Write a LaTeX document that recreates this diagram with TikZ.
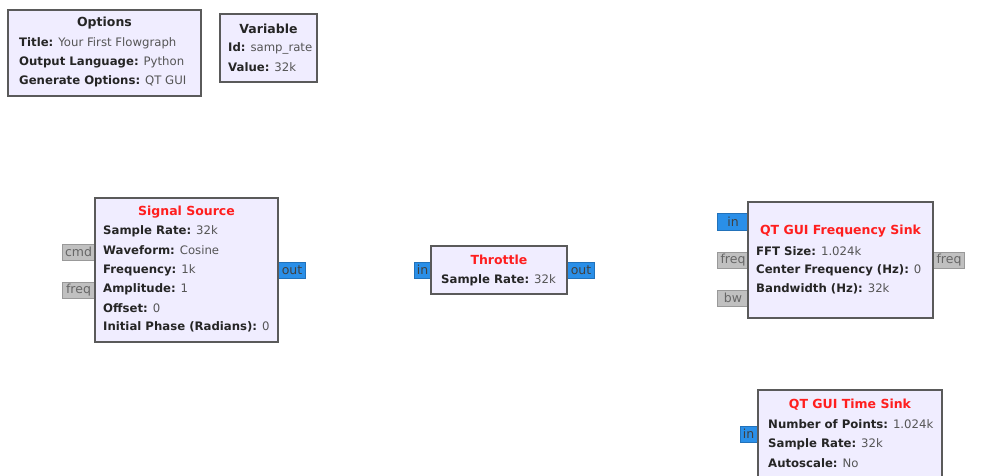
\documentclass[tikz,border=0pt]{standalone}
\usepackage{fontspec}
\setmainfont{DejaVu Sans}
\definecolor{boxfill}{HTML}{F0EDFF}
\definecolor{boxline}{HTML}{5A5A5A}
\definecolor{portblue}{HTML}{2A8FE8}
\definecolor{portgray}{HTML}{C0C0C0}
\definecolor{titlered}{HTML}{FF1E1E}
\definecolor{keytext}{HTML}{252525}
\definecolor{valtext}{HTML}{555555}
\tikzset{
  blk/.style={draw=boxline, line width=1.6pt, fill=boxfill, inner sep=0pt},
  bport/.style={draw=portblue!80!black, line width=0.6pt, fill=portblue, inner sep=0pt, font=\fontsize{12.5}{13}\selectfont, text=black!75},
  gport/.style={draw=black!40, line width=0.6pt, fill=portgray, inner sep=0pt, font=\fontsize{12.5}{13}\selectfont, text=black!60},
  ttl/.style={font=\fontsize{12.5}{13}\selectfont\bfseries, text=titlered, inner sep=0pt},
  ttlk/.style={font=\fontsize{12.5}{13}\selectfont\bfseries, text=keytext, inner sep=0pt},
  prm/.style={anchor=west, inner sep=0pt, font=\fontsize{11.7}{13}\selectfont, text=valtext},
}
\newcommand{\kv}[2]{\textbf{\color{keytext}#1:} #2}
\begin{document}
\begin{tikzpicture}[x=1pt,y=-1pt]
\useasboundingbox (0,0) rectangle (993,475);
\clip (0,0) rectangle (993,475);
% Options
\node[blk, minimum width=193pt, minimum height=86pt] (opt) at (104.5,53) {};
\node[ttlk] (optt) at (104.5,23) {Options};
\node[prm] (opt1) at (19,43) {\kv{Title}{Your First Flowgraph}};
\node[prm] (opt2) at (19,62) {\kv{Output Language}{Python}};
\node[prm] (opt3) at (19,81) {\kv{Generate Options}{QT GUI}};
% Variable
\node[blk, minimum width=97pt, minimum height=68pt] (var) at (268.5,48) {};
\node[ttlk] (vart) at (268.5,29) {Variable};
\node[prm] (var1) at (228,48) {\kv{Id}{samp\_rate}};
\node[prm] (var2) at (228,67) {\kv{Value}{32k}};
% Signal Source ports
\node[gport, minimum width=34pt, minimum height=16pt] (sscmd) at (79,252) {cmd\hspace*{1pt}};
\node[gport, minimum width=34pt, minimum height=16pt] (ssfreq) at (79,290) {freq\hspace*{1pt}};
\node[bport, minimum width=28pt, minimum height=16pt] (ssout) at (291,270) {\hspace*{2pt}out};
% Signal Source
\node[blk, minimum width=183pt, minimum height=144pt] (ss) at (186.5,270) {};
\node[ttl] (sst) at (186.5,212) {Signal Source};
\node[prm] (ss1) at (103,231) {\kv{Sample Rate}{32k}};
\node[prm] (ss2) at (103,250) {\kv{Waveform}{Cosine}};
\node[prm] (ss3) at (103,270) {\kv{Frequency}{1k}};
\node[prm] (ss4) at (103,289) {\kv{Amplitude}{1}};
\node[prm] (ss5) at (103,308) {\kv{Offset}{0}};
\node[prm] (ss6) at (103,327) {\kv{Initial Phase (Radians)}{0}};
% Throttle
\node[bport, minimum width=18pt, minimum height=16pt] (thin) at (423,270) {in\hspace*{1pt}};
\node[bport, minimum width=28pt, minimum height=16pt] (thout) at (580,270) {\hspace*{2pt}out};
\node[blk, minimum width=136pt, minimum height=48pt] (th) at (499,270) {};
\node[ttl] (tht) at (499,260) {Throttle};
\node[prm] (th1) at (441,280) {\kv{Sample Rate}{32k}};
% QT GUI Frequency Sink
\node[bport, minimum width=32pt, minimum height=17pt] (fsin) at (733,221.5) {in};
\node[gport, minimum width=32pt, minimum height=16pt] (fsfreq) at (733,260) {freq};
\node[gport, minimum width=32pt, minimum height=16pt] (fsbw) at (733,298) {bw};
\node[gport, minimum width=33pt, minimum height=16pt] (fsfreqo) at (948,260) {\hspace*{2pt}freq};
\node[blk, minimum width=185pt, minimum height=116pt] (fs) at (840.5,260) {};
\node[ttl] (fst) at (840.5,231) {QT GUI Frequency Sink};
\node[prm] (fs1) at (756,251) {\kv{FFT Size}{1.024k}};
\node[prm] (fs2) at (756,270) {\kv{Center Frequency (Hz)}{0}};
\node[prm] (fs3) at (756,289) {\kv{Bandwidth (Hz)}{32k}};
% QT GUI Time Sink
\node[bport, minimum width=18pt, minimum height=16pt] (tsin) at (749,434) {in\hspace*{1pt}};
\node[blk, minimum width=184pt, minimum height=100pt] (ts) at (850,440) {};
\node[ttl] (tst) at (850,405) {QT GUI Time Sink};
\node[prm] (ts1) at (768,424) {\kv{Number of Points}{1.024k}};
\node[prm] (ts2) at (768,444) {\kv{Sample Rate}{32k}};
\node[prm] (ts3) at (768,463) {\kv{Autoscale}{No}};
\end{tikzpicture}
\end{document}
